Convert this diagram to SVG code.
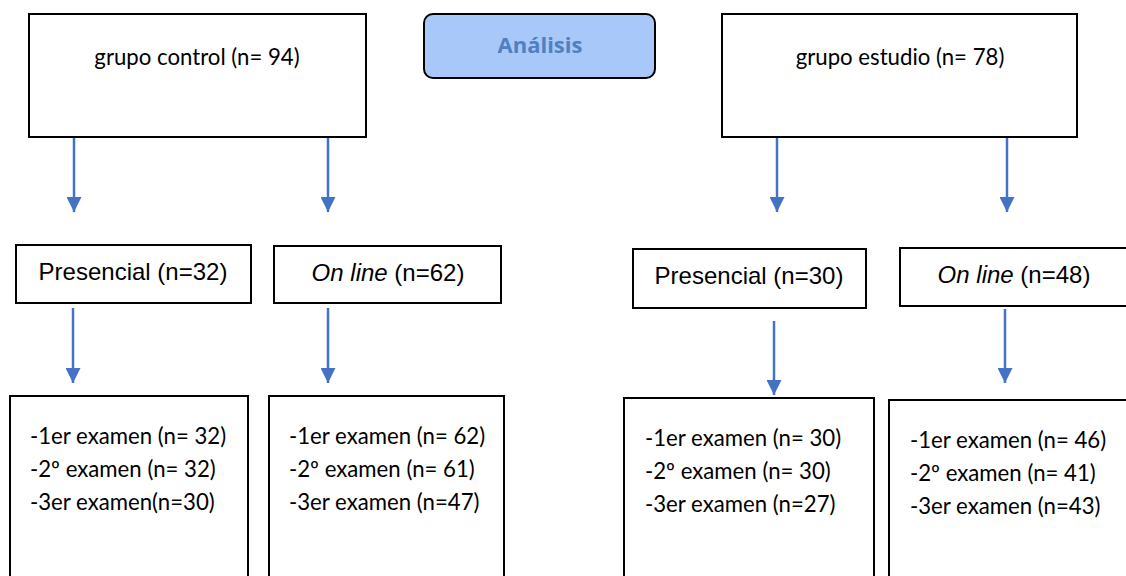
<svg xmlns="http://www.w3.org/2000/svg" width="1126" height="576" viewBox="0 0 1126 576">
<style>
.box{fill:#fff;stroke:#000;stroke-width:2}
.c{font-family:Lato,"Open Sans","Liberation Sans",sans-serif;font-size:22.2px;fill:#000}
.a{font-family:"Liberation Sans",Arial,sans-serif;font-size:24px;fill:#000}
.conn{stroke:#4472c4;stroke-width:2.5;fill:none}
.head{fill:#4472c4}
</style>
<defs>
<marker id="ah" viewBox="0 0 10 10" refX="10" refY="5" markerWidth="6" markerHeight="6" markerUnits="strokeWidth" orient="auto">
<path d="M0,0 L10,5 L0,10 z" class="head"/>
</marker>
</defs>
<rect width="1126" height="576" fill="#fff"/>
<g id="connectors">
<line class="conn" x1="74" y1="138" x2="74" y2="212" marker-end="url(#ah)"/>
<line class="conn" x1="328" y1="138" x2="328" y2="212" marker-end="url(#ah)"/>
<line class="conn" x1="777" y1="138" x2="777" y2="212" marker-end="url(#ah)"/>
<line class="conn" x1="1007" y1="138" x2="1007" y2="212" marker-end="url(#ah)"/>
<line class="conn" x1="73" y1="308" x2="73" y2="383" marker-end="url(#ah)"/>
<line class="conn" x1="328" y1="308" x2="328" y2="383" marker-end="url(#ah)"/>
<line class="conn" x1="774" y1="321" x2="774" y2="395" marker-end="url(#ah)"/>
<line class="conn" x1="1005" y1="309" x2="1005" y2="383" marker-end="url(#ah)"/>
</g>
<g id="control">
<rect class="box" x="29" y="14" width="337" height="123"/>
<text class="c" x="197" y="65" text-anchor="middle">grupo control (n= 94)</text>
</g>
<g id="analisis">
<rect x="424" y="14" width="231" height="64" rx="9" fill="#a9c8fa" stroke="#000" stroke-width="2"/>
<text x="540" y="53" text-anchor="middle" font-family="'Open Sans','Liberation Sans',sans-serif" font-size="22" font-weight="bold" fill="#4f80bf">Análisis</text>
</g>
<g id="estudio">
<rect class="box" x="722" y="14" width="355" height="123"/>
<text class="c" x="900" y="65" text-anchor="middle">grupo estudio (n= 78)</text>
</g>
<g id="presencial-control">
<rect class="box" x="16" y="245" width="235" height="58"/>
<text class="a" x="133" y="280" text-anchor="middle">Presencial (n=32)</text>
</g>
<g id="online-control">
<rect class="box" x="274" y="246" width="227" height="57"/>
<text class="a" x="388" y="281" text-anchor="middle"><tspan font-style="italic">On line</tspan> (n=62)</text>
</g>
<g id="presencial-estudio">
<rect class="box" x="633" y="249" width="233" height="59"/>
<text class="a" x="749" y="284" text-anchor="middle">Presencial (n=30)</text>
</g>
<g id="online-estudio">
<rect class="box" x="900" y="248" width="230" height="58"/>
<text class="a" x="1014" y="283" text-anchor="middle"><tspan font-style="italic">On line</tspan> (n=48)</text>
</g>
<g id="examenes-presencial-control">
<rect class="box" x="10" y="396" width="238" height="190"/>
<text class="c" x="30" y="444">-1er examen (n= 32)</text>
<text class="c" x="30" y="477">-2º examen (n= 32)</text>
<text class="c" x="30" y="510">-3er examen(n=30)</text>
</g>
<g id="examenes-online-control">
<rect class="box" x="269" y="396" width="235" height="190"/>
<text class="c" x="289" y="444">-1er examen (n= 62)</text>
<text class="c" x="289" y="477">-2º examen (n= 61)</text>
<text class="c" x="289" y="510">-3er examen (n=47)</text>
</g>
<g id="examenes-presencial-estudio">
<rect class="box" x="624" y="398" width="250" height="190"/>
<text class="c" x="645" y="446">-1er examen (n= 30)</text>
<text class="c" x="645" y="479">-2º examen (n= 30)</text>
<text class="c" x="645" y="512">-3er examen (n=27)</text>
</g>
<g id="examenes-online-estudio">
<rect class="box" x="889" y="400" width="240" height="190"/>
<text class="c" x="910" y="448">-1er examen (n= 46)</text>
<text class="c" x="910" y="481">-2º examen (n= 41)</text>
<text class="c" x="910" y="514">-3er examen (n=43)</text>
</g>
</svg>
